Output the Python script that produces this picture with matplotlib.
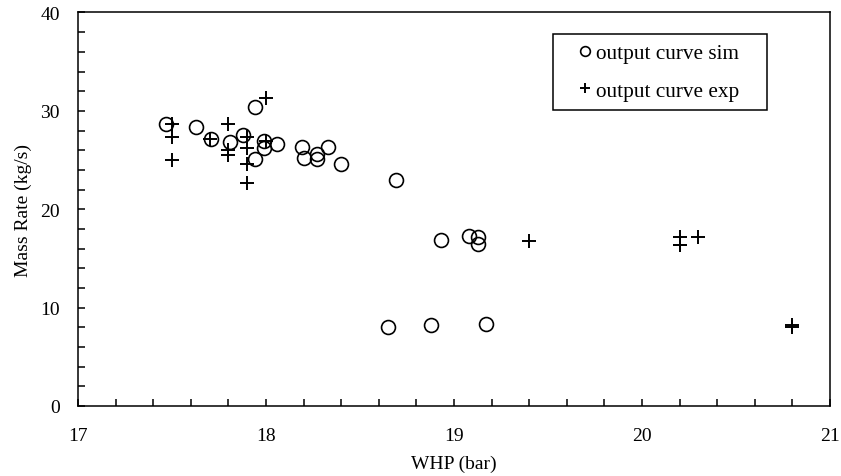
import matplotlib
matplotlib.use("Agg")
import matplotlib.pyplot as plt
from matplotlib.patches import Rectangle
from matplotlib.ticker import MultipleLocator

plt.rcParams['font.family'] = ['Liberation Serif', 'DejaVu Serif']

# output curve sim (WHP bar, mass rate kg/s)
sim_whp = [17.47, 17.63, 17.71, 17.81, 17.88, 17.94, 17.94, 17.99, 17.99, 18.06,
           18.19, 18.20, 18.27, 18.27, 18.33, 18.40, 18.69, 18.93, 19.08, 19.13,
           19.13, 18.65, 18.88, 19.17]
sim_rate = [28.7, 28.4, 27.1, 26.8, 27.5, 30.4, 25.1, 26.9, 26.2, 26.6,
            26.3, 25.2, 25.6, 25.1, 26.3, 24.6, 23.0, 16.9, 17.3, 17.2,
            16.5, 8.05, 8.25, 8.3]

# output curve exp
exp_whp = [17.5, 17.5, 17.5, 17.7, 17.8, 17.8, 17.8, 17.9, 17.9, 17.9, 17.9,
           18.0, 18.0, 19.4, 20.2, 20.2, 20.2, 20.3, 20.8, 20.8]
exp_rate = [28.7, 27.3, 25.0, 27.1, 28.7, 26.0, 25.5, 27.3, 26.2, 24.6, 22.7,
            31.3, 26.9, 16.8, 17.2, 16.4, 16.4, 17.2, 8.2, 8.0]

fig = plt.figure(figsize=(8.41, 4.77), dpi=100)
ax = fig.add_axes([0.0927, 0.1468, 0.8943, 0.8249])

ax.plot(sim_whp, sim_rate, 'o', mfc='none', mec='black', ms=10, mew=1.2,
        label='output curve sim')
ax.plot(exp_whp, exp_rate, '+', color='black', ms=10, mew=1.4,
        label='output curve exp')

ax.set_xlim(17, 21)
ax.set_ylim(0, 40)
ax.xaxis.set_major_locator(MultipleLocator(1))
ax.xaxis.set_minor_locator(MultipleLocator(0.2))
ax.yaxis.set_major_locator(MultipleLocator(10))
ax.yaxis.set_minor_locator(MultipleLocator(2))
ax.tick_params(which='both', direction='in', length=5, width=1.1,
               top=False, right=False, labelsize=14, colors='black')
ax.tick_params(axis='x', pad=15)
ax.tick_params(axis='y', pad=13)
for s in ax.spines.values():
    s.set_linewidth(1.1)

ax.set_xlabel('WHP (bar)', fontsize=14, labelpad=8)
ax.set_ylabel('Mass Rate (kg/s)', fontsize=14, labelpad=6)

# legend box like the excel one (wider than its text)
ax.add_patch(Rectangle((0.6316, 0.7522), 0.2846, 0.1932, transform=ax.transAxes,
                       fill=True, facecolor='white', edgecolor='black', lw=1.1, zorder=4))
leg = ax.legend(loc='upper left', bbox_to_anchor=(0.6676, 0.921), fontsize=15.3,
                frameon=False, handlelength=0.5, handletextpad=0.25, borderpad=0,
                labelspacing=0.82, markerscale=0.7, borderaxespad=0)
leg.set_zorder(5)

fig.savefig('out.png', dpi=100)
